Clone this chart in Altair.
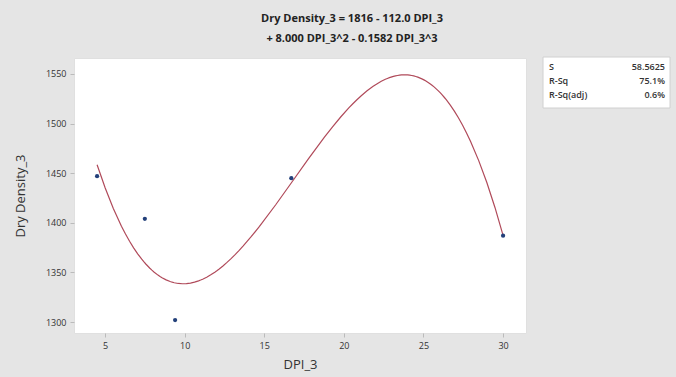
import altair as alt
import pandas as pd

dpi = [4.5, 7.5, 9.4, 16.7, 30.0]
density = [1447, 1404, 1302, 1445, 1387]

stat_labels = ["S", "R-Sq", "R-Sq(adj)"]
stat_values = ["58.5625", "75.1%", "0.6%"]

title_lines = ["Dry Density_3 = 1816 - 112.0 DPI_3", "+ 8.000 DPI_3^2 - 0.1582 DPI_3^3"]

df = pd.DataFrame({"DPI_3": dpi, "Dry Density_3": density})
stats = pd.DataFrame({"label": stat_labels, "value": stat_values, "row": [0, 1, 2]})

FONT = "Open Sans"

xs = alt.X("DPI_3:Q", scale=alt.Scale(domain=[3.05, 31.44], nice=False, zero=False),
           axis=alt.Axis(values=[5, 10, 15, 20, 25, 30], grid=False, title="DPI_3",
                         labelFontSize=9, labelColor="#333", titleFontSize=13,
                         titleFontWeight="normal", titleColor="#333", titlePadding=8,
                         domain=False, tickColor="#bbb", tickSize=4, labelPadding=4))
ys = alt.Y("Dry Density_3:Q", scale=alt.Scale(domain=[1289, 1566], nice=False, zero=False),
           axis=alt.Axis(values=[1300, 1350, 1400, 1450, 1500, 1550], grid=False, format="d",
                         title="Dry Density_3", labelFontSize=9, labelColor="#333",
                         titleFontSize=13, titleFontWeight="normal", titleColor="#333",
                         titlePadding=18, domain=False, tickColor="#bbb", tickSize=4,
                         labelPadding=4))

base = alt.Chart(df)

fit = base.transform_regression("DPI_3", "Dry Density_3", method="poly", order=3,
                                extent=[4.5, 30.0]).mark_line(
    color="#b04a5a", strokeWidth=1.2).encode(x=xs, y=ys)

pts = base.mark_point(filled=True, size=18, color="#23407a", opacity=1).encode(x=xs, y=ys)

box = alt.Chart(pd.DataFrame({"a": [1]})).mark_rect(
    fill="white", stroke="#d0d0d0", strokeWidth=1).encode(
    x=alt.value(469), x2=alt.value(596), y=alt.value(-1), y2=alt.value(50))

stat_base = alt.Chart(stats).transform_calculate(py="9 + datum.row * 14")
lab = stat_base.mark_text(align="left", baseline="middle", fontSize=9, fontWeight=600,
                          font=FONT, color="#333").encode(
    x=alt.value(475), y=alt.Y("py:Q", scale=None, axis=None), text="label:N")
val = stat_base.mark_text(align="right", baseline="middle", fontSize=9, fontWeight=600,
                          font=FONT, color="#333").encode(
    x=alt.value(591), y=alt.Y("py:Q", scale=None, axis=None), text="value:N")

chart = alt.layer(fit, pts, box, lab, val).properties(
    width=452, height=275,
    autosize=alt.AutoSizeParams(type="none"),
    padding={"left": 74, "top": 58, "right": 150, "bottom": 44},
    background="#e5e5e5",
    title=alt.Title(title_lines, fontSize=11, fontWeight="bold", color="#222",
                    font=FONT, anchor="middle", dx=52, offset=13, lineHeight=20),
).configure_view(fill="white", stroke="#e0e0e0").configure_axis(labelFont=FONT, titleFont=FONT)

chart.save("out.html", embed_options={"renderer": "svg", "actions": False})
